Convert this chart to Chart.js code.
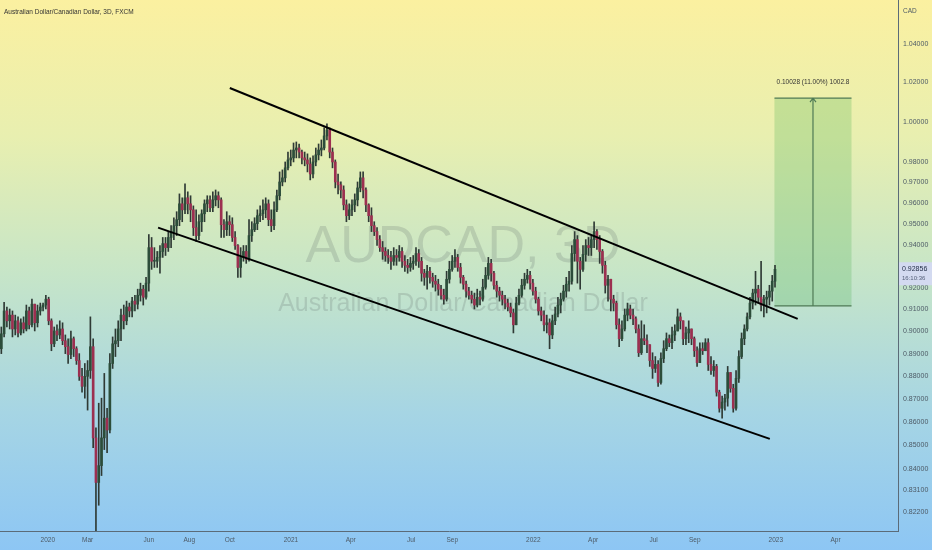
<!DOCTYPE html>
<html lang="en">
<head>
    <meta charset="UTF-8">
    <title>AUDCAD, 3D</title>
    <script src="https://cdn.jsdelivr.net/npm/chart.js@4.4.0/dist/chart.umd.min.js"></script>
    <style>
        html, body { margin: 0; padding: 0; }
        body {
            width: 932px; height: 550px; overflow: hidden;
            background: linear-gradient(180deg, #fbf0a0 0%, #e8efb0 25%, #c6e5c8 50%, #a6d5e4 75%, #8dc6f4 100%);
        }
        #wrap { position: relative; width: 932px; height: 550px; }
    </style>
</head>
<body>
<div id="wrap"><canvas id="chart" width="932" height="550"></canvas></div>
<script>
    // 3D bars, AUDCAD (FXCM), first bar 2019-10-23
    const firstBar = '2019-10-23';
    const barDays = 4.19;
    const firstOpen = 0.8922;

    const closes = [
        0.8989, 0.9093, 0.9048, 0.9074, 0.9011, 0.9048, 0.8993, 0.9039, 0.9011, 0.9093,
        0.9030, 0.9124, 0.9039, 0.9093, 0.9111, 0.9120, 0.9147, 0.9048, 0.8944, 0.9002,
        0.8984, 0.9011, 0.8958, 0.8931, 0.8896, 0.8967, 0.8922, 0.8869, 0.8799, 0.8755,
        0.8799, 0.8825, 0.8931, 0.8531, 0.8342, 0.8413, 0.8531, 0.8616, 0.8565, 0.8856,
        0.8944, 0.8958, 0.9011, 0.9074, 0.9048, 0.9111, 0.9093, 0.9138, 0.9124, 0.9165,
        0.9193, 0.9156, 0.9221, 0.9387, 0.9323, 0.9323, 0.9341, 0.9369, 0.9406, 0.9387,
        0.9435, 0.9463, 0.9491, 0.9520, 0.9596, 0.9567, 0.9625, 0.9596, 0.9567, 0.9482,
        0.9444, 0.9510, 0.9548, 0.9596, 0.9615, 0.9577, 0.9615, 0.9635, 0.9615, 0.9496,
        0.9472, 0.9510, 0.9496, 0.9435, 0.9397, 0.9294, 0.9341, 0.9369, 0.9332, 0.9444,
        0.9472, 0.9501, 0.9539, 0.9548, 0.9567, 0.9596, 0.9520, 0.9491, 0.9567, 0.9635,
        0.9702, 0.9722, 0.9771, 0.9810, 0.9820, 0.9859, 0.9869, 0.9849, 0.9820, 0.9810,
        0.9790, 0.9741, 0.9800, 0.9835, 0.9859, 0.9869, 0.9929, 0.9959, 0.9849, 0.9800,
        0.9702, 0.9688, 0.9663, 0.9591, 0.9539, 0.9567, 0.9591, 0.9615, 0.9673, 0.9722,
        0.9663, 0.9591, 0.9539, 0.9491, 0.9463, 0.9425, 0.9387, 0.9369, 0.9350, 0.9341,
        0.9323, 0.9350, 0.9341, 0.9369, 0.9323, 0.9304, 0.9294, 0.9313, 0.9323, 0.9359,
        0.9323, 0.9267, 0.9248, 0.9276, 0.9248, 0.9230, 0.9216, 0.9193, 0.9165, 0.9147,
        0.9239, 0.9285, 0.9323, 0.9341, 0.9294, 0.9248, 0.9216, 0.9184, 0.9165, 0.9147,
        0.9120, 0.9156, 0.9147, 0.9202, 0.9257, 0.9313, 0.9267, 0.9211, 0.9184, 0.9165,
        0.9147, 0.9129, 0.9111, 0.9084, 0.9030, 0.9129, 0.9165, 0.9211, 0.9239, 0.9257,
        0.9221, 0.9184, 0.9147, 0.9093, 0.9074, 0.9030, 0.9039, 0.8984, 0.9048, 0.9079,
        0.9120, 0.9147, 0.9184, 0.9216, 0.9230, 0.9359, 0.9425, 0.9323, 0.9285, 0.9355,
        0.9397, 0.9387, 0.9425, 0.9463, 0.9425, 0.9369, 0.9304, 0.9211, 0.9239, 0.9147,
        0.9129, 0.9030, 0.8967, 0.9011, 0.9074, 0.9102, 0.9074, 0.9057, 0.9011, 0.8904,
        0.8967, 0.8958, 0.8940, 0.8869, 0.8834, 0.8852, 0.8772, 0.8878, 0.8922, 0.8967,
        0.8949, 0.8984, 0.9002, 0.9066, 0.9048, 0.8967, 0.8993, 0.9011, 0.8967, 0.8913,
        0.8860, 0.8922, 0.8913, 0.8949, 0.8852, 0.8825, 0.8843, 0.8729, 0.8659, 0.8686,
        0.8703, 0.8816, 0.8746, 0.8659, 0.8790, 0.8887, 0.8967, 0.9011, 0.9066, 0.9129,
        0.9175, 0.9193, 0.9156, 0.9120, 0.9147, 0.9156, 0.9184, 0.9230, 0.92856
    ];
    const highs = [
        0.9020, 0.9133, 0.9111, 0.9102, 0.9093, 0.9074, 0.9066, 0.9057, 0.9066, 0.9120,
        0.9111, 0.9147, 0.9111, 0.9120, 0.9129, 0.9129, 0.9165, 0.9156, 0.9057, 0.9020,
        0.9030, 0.9048, 0.9039, 0.8984, 0.8967, 0.9002, 0.8975, 0.8931, 0.8900, 0.8834,
        0.8856, 0.8869, 0.9066, 0.8967, 0.8574, 0.8681, 0.8703, 0.8812, 0.8659, 0.8900,
        0.8975, 0.9011, 0.9048, 0.9102, 0.9120, 0.9138, 0.9129, 0.9156, 0.9165, 0.9193,
        0.9221, 0.9211, 0.9248, 0.9449, 0.9435, 0.9387, 0.9369, 0.9397, 0.9435, 0.9435,
        0.9463, 0.9491, 0.9529, 0.9558, 0.9644, 0.9625, 0.9693, 0.9654, 0.9635, 0.9586,
        0.9567, 0.9543, 0.9567, 0.9615, 0.9635, 0.9635, 0.9654, 0.9663, 0.9654, 0.9625,
        0.9520, 0.9558, 0.9539, 0.9529, 0.9463, 0.9401, 0.9387, 0.9397, 0.9397, 0.9520,
        0.9510, 0.9529, 0.9567, 0.9586, 0.9615, 0.9625, 0.9615, 0.9567, 0.9606, 0.9663,
        0.9751, 0.9761, 0.9800, 0.9849, 0.9859, 0.9894, 0.9899, 0.9889, 0.9859, 0.9849,
        0.9840, 0.9820, 0.9830, 0.9869, 0.9889, 0.9909, 0.9969, 0.9989, 0.9969, 0.9869,
        0.9810, 0.9741, 0.9702, 0.9683, 0.9615, 0.9596, 0.9615, 0.9644, 0.9702, 0.9751,
        0.9751, 0.9673, 0.9596, 0.9577, 0.9510, 0.9482, 0.9444, 0.9416, 0.9387, 0.9378,
        0.9369, 0.9387, 0.9378, 0.9397, 0.9387, 0.9350, 0.9332, 0.9341, 0.9350, 0.9387,
        0.9378, 0.9341, 0.9285, 0.9304, 0.9294, 0.9267, 0.9257, 0.9239, 0.9211, 0.9193,
        0.9276, 0.9323, 0.9350, 0.9378, 0.9355, 0.9313, 0.9257, 0.9230, 0.9202, 0.9184,
        0.9175, 0.9193, 0.9184, 0.9239, 0.9294, 0.9341, 0.9332, 0.9276, 0.9230, 0.9202,
        0.9184, 0.9165, 0.9147, 0.9129, 0.9102, 0.9156, 0.9193, 0.9239, 0.9267, 0.9285,
        0.9276, 0.9239, 0.9202, 0.9156, 0.9111, 0.9093, 0.9074, 0.9057, 0.9074, 0.9111,
        0.9156, 0.9175, 0.9211, 0.9248, 0.9276, 0.9397, 0.9463, 0.9444, 0.9341, 0.9397,
        0.9425, 0.9435, 0.9444, 0.9510, 0.9472, 0.9444, 0.9378, 0.9323, 0.9257, 0.9239,
        0.9165, 0.9138, 0.9057, 0.9048, 0.9102, 0.9129, 0.9120, 0.9102, 0.9066, 0.9030,
        0.9048, 0.9030, 0.8984, 0.8931, 0.8904, 0.8887, 0.8869, 0.8904, 0.8958, 0.8993,
        0.8984, 0.9020, 0.9030, 0.9102, 0.9084, 0.9048, 0.9020, 0.9048, 0.9011, 0.8975,
        0.8931, 0.8949, 0.8949, 0.8967, 0.8967, 0.8887, 0.8869, 0.8852, 0.8738, 0.8712,
        0.8720, 0.8843, 0.8808, 0.8764, 0.8825, 0.8913, 0.8993, 0.9030, 0.9084, 0.9156,
        0.9193, 0.9276, 0.9211, 0.9323, 0.9165, 0.9184, 0.9211, 0.9257, 0.9304
    ];
    const lows = [
        0.8900, 0.8975, 0.9020, 0.9011, 0.8975, 0.8984, 0.8975, 0.8984, 0.8993, 0.9002,
        0.9011, 0.9020, 0.9002, 0.9020, 0.9074, 0.9093, 0.9102, 0.9030, 0.8913, 0.8931,
        0.8958, 0.8967, 0.8940, 0.8900, 0.8856, 0.8878, 0.8887, 0.8852, 0.8781, 0.8729,
        0.8703, 0.8651, 0.8790, 0.8489, 0.8116, 0.8247, 0.8371, 0.8481, 0.8468, 0.8552,
        0.8834, 0.8887, 0.8931, 0.8958, 0.9011, 0.9030, 0.9066, 0.9066, 0.9093, 0.9102,
        0.9138, 0.9120, 0.9147, 0.9184, 0.9285, 0.9294, 0.9294, 0.9267, 0.9341, 0.9350,
        0.9369, 0.9387, 0.9425, 0.9444, 0.9491, 0.9510, 0.9548, 0.9548, 0.9510, 0.9444,
        0.9416, 0.9425, 0.9463, 0.9510, 0.9558, 0.9558, 0.9558, 0.9586, 0.9577, 0.9435,
        0.9435, 0.9444, 0.9444, 0.9416, 0.9378, 0.9248, 0.9248, 0.9323, 0.9313, 0.9323,
        0.9416, 0.9463, 0.9472, 0.9510, 0.9520, 0.9529, 0.9491, 0.9463, 0.9472, 0.9558,
        0.9615, 0.9683, 0.9702, 0.9761, 0.9781, 0.9800, 0.9820, 0.9820, 0.9790, 0.9781,
        0.9751, 0.9712, 0.9722, 0.9781, 0.9810, 0.9830, 0.9859, 0.9909, 0.9820, 0.9771,
        0.9673, 0.9644, 0.9625, 0.9567, 0.9510, 0.9520, 0.9539, 0.9558, 0.9586, 0.9654,
        0.9625, 0.9558, 0.9510, 0.9463, 0.9444, 0.9397, 0.9369, 0.9332, 0.9323, 0.9313,
        0.9285, 0.9304, 0.9304, 0.9323, 0.9294, 0.9276, 0.9267, 0.9276, 0.9285, 0.9304,
        0.9294, 0.9230, 0.9211, 0.9193, 0.9221, 0.9202, 0.9184, 0.9165, 0.9147, 0.9124,
        0.9138, 0.9221, 0.9276, 0.9294, 0.9276, 0.9221, 0.9193, 0.9156, 0.9147, 0.9129,
        0.9102, 0.9111, 0.9120, 0.9138, 0.9193, 0.9239, 0.9230, 0.9193, 0.9156, 0.9138,
        0.9120, 0.9102, 0.9093, 0.9066, 0.8993, 0.9030, 0.9120, 0.9156, 0.9193, 0.9221,
        0.9193, 0.9165, 0.9129, 0.9074, 0.9048, 0.9002, 0.8993, 0.8922, 0.8967, 0.9030,
        0.9066, 0.9084, 0.9138, 0.9156, 0.9184, 0.9216, 0.9323, 0.9221, 0.9193, 0.9276,
        0.9323, 0.9350, 0.9350, 0.9387, 0.9378, 0.9313, 0.9267, 0.9175, 0.9138, 0.9093,
        0.9093, 0.9011, 0.8931, 0.8958, 0.9002, 0.9048, 0.9057, 0.9030, 0.8993, 0.8887,
        0.8896, 0.8940, 0.8904, 0.8843, 0.8790, 0.8816, 0.8755, 0.8764, 0.8860, 0.8913,
        0.8931, 0.8922, 0.8958, 0.9002, 0.9011, 0.8940, 0.8940, 0.8949, 0.8940, 0.8887,
        0.8843, 0.8887, 0.8896, 0.8913, 0.8825, 0.8808, 0.8799, 0.8712, 0.8642, 0.8616,
        0.8651, 0.8668, 0.8729, 0.8642, 0.8651, 0.8772, 0.8878, 0.8940, 0.9002, 0.9057,
        0.9102, 0.9120, 0.9129, 0.9093, 0.9066, 0.9084, 0.9120, 0.9138, 0.9202
    ];

    const xTickLabels = ['2020', 'Mar', 'Jun', 'Aug', 'Oct', '2021', 'Apr', 'Jul', 'Sep', '2022', 'Apr', 'Jul', 'Sep', '2023', 'Apr'];
    const xTickDates = ['2020-01-01', '2020-03-01', '2020-06-01', '2020-08-01', '2020-10-01', '2021-01-01', '2021-04-01',
        '2021-07-01', '2021-09-01', '2022-01-01', '2022-04-01', '2022-07-01', '2022-09-01', '2023-01-01', '2023-04-01'];
    const yTicks = [1.04, 1.02, 1.00, 0.98, 0.97, 0.96, 0.95, 0.94, 0.92, 0.91, 0.90, 0.89, 0.88, 0.87, 0.86, 0.85, 0.84, 0.831, 0.822];

    // visible range
    const viewStart = '2019-10-21', viewEnd = '2023-07-04';
    const yMin = 0.8141, yMax = 1.0631;

    // drawings
    const upperChannel = { dates: ['2020-10-01', '2023-02-03'], prices: [1.0171, 0.9057] };
    const lowerChannel = { dates: ['2020-06-15', '2022-12-23'], prices: [0.9482, 0.8527] };
    const measure = { from: '2022-12-30', to: '2023-04-25', low: 0.91162, high: 1.01190 };

    const upColor = '#2c4d3a';
    const downColor = '#9c2f50';
    const wickColor = '#2f3a35';
    const axisColor = '#5b6b78';
    const labelColor = '#4d5a66';
    const font = '"Liberation Sans", Arial, sans-serif';

    const idxOf = d => (Date.parse(d) - Date.parse(firstBar)) / 86400000 / barDays;
    const opens = closes.map((c, i) => i === 0 ? firstOpen : closes[i - 1]);
    const bodies = closes.map((c, i) => ({ x: i, y: [opens[i], c] }));
    const wicks = closes.map((c, i) => ({
        x: i,
        y: [Math.min(lows[i], opens[i], c), Math.max(highs[i], opens[i], c)]
    }));
    const bodyColors = closes.map((c, i) => c >= opens[i] ? upColor : downColor);
    const channelPts = ch => ch.dates.map((d, i) => ({ x: idxOf(d), y: ch.prices[i] }));

    // no label overhang padding, the plot runs edge to edge
    const noPad = s => { s.paddingTop = 0; s.paddingBottom = 0; s.paddingLeft = 0; s.paddingRight = 0; };

    const overlay = {
        id: 'overlay',
        beforeDatasetsDraw(chart) {
            const { ctx, scales: { x, y } } = chart;
            ctx.save();
            // watermark
            ctx.fillStyle = 'rgba(95, 105, 105, 0.21)';
            ctx.textAlign = 'center';
            ctx.font = '52px ' + font;
            ctx.fillText('AUDCAD, 3D', 463, 262);
            ctx.font = '25px ' + font;
            ctx.fillText('Australian Dollar/Canadian Dollar', 463, 311);

            // price range measure
            const x0 = x.getPixelForValue(idxOf(measure.from));
            const x1 = x.getPixelForValue(idxOf(measure.to));
            const yt = y.getPixelForValue(measure.high);
            const yb = y.getPixelForValue(measure.low);
            ctx.fillStyle = 'rgba(76, 175, 80, 0.25)';
            ctx.fillRect(x0, yt, x1 - x0, yb - yt);
            ctx.strokeStyle = '#4f7a55';
            ctx.lineWidth = 1.2;
            ctx.beginPath();
            ctx.moveTo(x0, yt); ctx.lineTo(x1, yt);
            ctx.moveTo(x0, yb); ctx.lineTo(x1, yb);
            const xm = (x0 + x1) / 2;
            ctx.moveTo(xm, yb); ctx.lineTo(xm, yt);
            ctx.moveTo(xm - 3, yt + 4); ctx.lineTo(xm, yt); ctx.lineTo(xm + 3, yt + 4);
            ctx.stroke();
            const diff = measure.high - measure.low;
            ctx.fillStyle = '#333';
            ctx.font = '6.5px ' + font;
            ctx.fillText(diff.toFixed(5) + ' (' + (diff / measure.low * 100).toFixed(2) + '%) ' + (diff * 10000).toFixed(1), xm, yt - 14);
            ctx.restore();
        },
        afterDraw(chart) {
            const { ctx, chartArea: a, scales: { y } } = chart;
            ctx.save();
            ctx.fillStyle = '#333';
            ctx.font = '6.5px ' + font;
            ctx.textAlign = 'left';
            ctx.fillText('Australian Dollar/Canadian Dollar, 3D, FXCM', 4, 14);
            ctx.fillStyle = labelColor;
            ctx.font = '6.5px ' + font;
            ctx.fillText('CAD', a.right + 5, 13);

            // last price label
            const last = closes[closes.length - 1];
            const py = y.getPixelForValue(last);
            ctx.fillStyle = '#d3daf0';
            ctx.fillRect(a.right + 1, py - 7, 33, 23);
            ctx.fillStyle = '#1f2a44';
            ctx.font = '7px ' + font;
            ctx.fillText(last.toFixed(5), a.right + 4, py + 2);
            ctx.fillStyle = '#55607a';
            ctx.font = '6px ' + font;
            ctx.fillText('16:10:36', a.right + 4, py + 11);
            ctx.restore();
        }
    };

    new Chart(document.getElementById('chart'), {
        type: 'bar',
        data: {
            datasets: [
                {
                    type: 'line', data: channelPts(upperChannel), borderColor: '#000', borderWidth: 2,
                    pointRadius: 0, order: 0
                },
                {
                    type: 'line', data: channelPts(lowerChannel), borderColor: '#000', borderWidth: 2,
                    pointRadius: 0, order: 0
                },
                {
                    data: bodies, backgroundColor: bodyColors, barThickness: 2, minBarLength: 1,
                    grouped: false, order: 1
                },
                {
                    data: wicks, backgroundColor: wickColor, barThickness: 1, grouped: false, order: 2
                }
            ]
        },
        options: {
            responsive: false,
            animation: false,
            devicePixelRatio: 1,
            layout: { padding: 0 },
            plugins: { legend: { display: false }, tooltip: { enabled: false } },
            scales: {
                x: {
                    type: 'linear',
                    bounds: 'data',
                    offset: false,
                    min: idxOf(viewStart),
                    max: idxOf(viewEnd),
                    grid: { display: false, drawTicks: false },
                    border: { display: true, color: axisColor, width: 1 },
                    ticks: {
                        autoSkip: false, maxRotation: 0, padding: 5, color: labelColor,
                        font: { family: font, size: 6.5 },
                        callback: (v, i) => xTickLabels[i]
                    },
                    afterBuildTicks: s => { s.ticks = xTickDates.map(d => ({ value: idxOf(d) })); },
                    afterFit: s => { s.height = 19; noPad(s); }
                },
                y: {
                    type: 'logarithmic',
                    bounds: 'data',
                    position: 'right',
                    min: yMin,
                    max: yMax,
                    grid: { display: false, drawTicks: false },
                    border: { display: true, color: axisColor, width: 1 },
                    ticks: {
                        padding: 5, color: labelColor,
                        font: { family: font, size: 7 },
                        callback: v => v.toFixed(5)
                    },
                    afterBuildTicks: s => {
                        s.ticks = yTicks.map(v => ({ value: v }));
                        s.min = yMin;
                        s.max = yMax;
                    },
                    afterFit: s => { s.width = 34; noPad(s); }
                }
            }
        },
        plugins: [overlay]
    });
</script>
</body>
</html>
